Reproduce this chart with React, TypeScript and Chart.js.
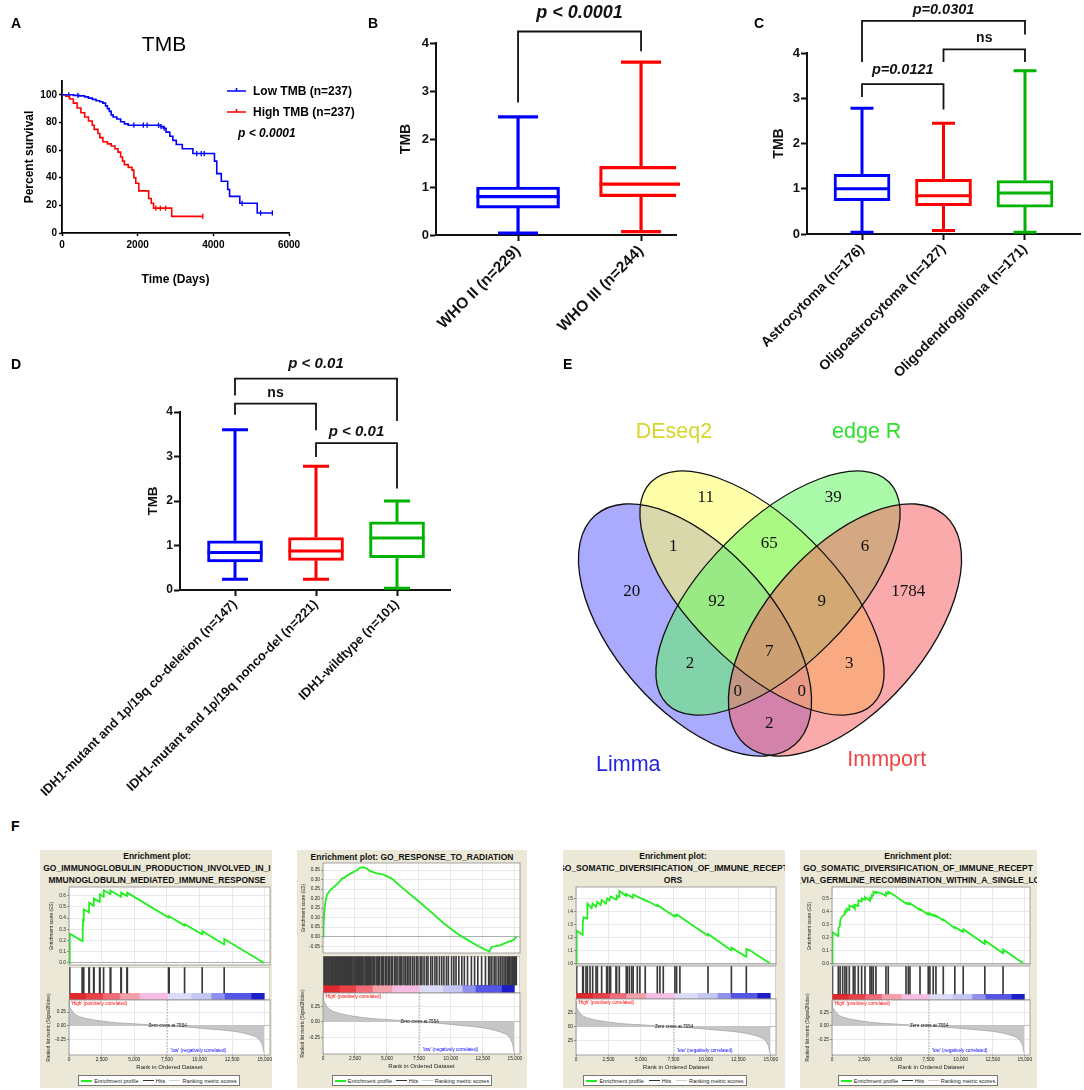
import React, { useEffect, useRef } from 'react';
import { Chart, registerables } from 'chart.js';

Chart.register(...registerables);

const SANS = "'Liberation Sans', Arial, Helvetica, sans-serif";
const SERIF = "'Liberation Serif', 'DejaVu Serif', serif";
Chart.defaults.font.family = SANS;
Chart.defaults.color = '#000';

/* ================= A: Kaplan-Meier (TMB) ================= */
const kmXTicks = [0, 2000, 4000, 6000];
const kmYTicks = [0, 20, 40, 60, 80, 100];
const kmLowLabel = 'Low TMB (n=237)';
const kmHighLabel = 'High TMB (n=237)';
const kmLowDays = [0, 300, 450, 600, 700, 800, 900, 1000, 1080, 1150, 1200, 1250, 1300, 1350, 1450, 1550, 1650, 1750, 2600, 2680, 2750, 2850, 2930, 3020, 3180, 3460, 4030, 4090, 4210, 4380, 4430, 4700, 5160, 5560];
const kmLowSurv = [100, 99.6, 99.2, 98.5, 97.6, 96.7, 95.7, 95, 94, 92, 90, 88, 85.5, 84, 82.5, 80.5, 79, 78, 77, 75.8, 73, 70, 67, 64, 61, 57.5, 52, 43, 37.5, 31.5, 26.5, 21.5, 14.5, 14.5];
const kmHighDays = [0, 100, 200, 300, 400, 500, 600, 700, 800, 850, 950, 1000, 1080, 1200, 1300, 1400, 1480, 1550, 1600, 1650, 1750, 1850, 1900, 1950, 2030, 2290, 2360, 2420, 2900, 3720];
const kmHighSurv = [100, 99, 97, 94, 90.5, 87, 84, 81, 78, 75, 72, 69, 66, 64.5, 63, 61, 58.5, 55, 52, 49.5, 47.5, 45.5, 40, 36, 30.5, 25, 21.5, 18, 12, 12];
const kmLowCensor = [180, 420, 1900, 2150, 2250, 2550, 2620, 2700, 3560, 3680, 3760, 4760, 5250, 5560];
const kmHighCensor = [2480, 2600, 2740, 3720];

/* ================= B: WHO grade ================= */
const whoCats = ['WHO II (n=229)', 'WHO III (n=244)'];
const whoMin = [0.04, 0.07];
const whoQ1 = [0.56, 0.8];
const whoMed = [0.8, 1.06];
const whoQ3 = [1.0, 1.43];
const whoMax = [2.46, 3.6];

/* ================= C: histology ================= */
const histCats = ['Astrocytoma (n=176)', 'Oligoastrocytoma (n=127)', 'Oligodendroglioma (n=171)'];
const histMin = [0.04, 0.08, 0.04];
const histQ1 = [0.735, 0.625, 0.595];
const histMed = [1.0, 0.845, 0.905];
const histQ3 = [1.32, 1.21, 1.18];
const histMax = [2.78, 2.45, 3.61];

/* ================= D: IDH / 1p19q ================= */
const idhCats = ['IDH1-mutant and 1p/19q co-deletion (n=147)', 'IDH1-mutant and 1p/19q nonco-del (n=221)', 'IDH1-wildtype (n=101)'];
const idhMin = [0.24, 0.24, 0.04];
const idhQ1 = [0.63, 0.665, 0.725];
const idhMed = [0.84, 0.875, 1.17];
const idhQ3 = [1.105, 1.18, 1.53];
const idhMax = [3.6, 2.78, 2.0];

const tmbTicks = [0, 1, 2, 3, 4];
const boxColors = ['#0000ff', '#ff0000', '#00b300'];

/* ================= E: Venn ================= */
const vennSets = ['Limma', 'DEseq2', 'edge R', 'Immport'];
const vennSetColors = ['#2424e6', '#d6d62c', '#2fe02f', '#f04444'];
const vennRegionCounts = [20, 11, 39, 1784, 1, 65, 6, 92, 9, 2, 7, 3, 0, 0, 2];
// label anchor points of the regions / set names inside the Venn frame (layout)
const vennRegionXY = [[91.7, 211.7], [165.7, 117.3], [293.3, 117.3], [368.3, 211.7], [133.3, 166.7], [229.3, 163.3], [325, 166.7], [176.7, 221.7], [281.7, 221.7], [150, 283.3], [229.3, 271.7], [309.3, 283.3], [197.7, 311.7], [261.7, 311.7], [229.3, 343.3]];
const vennSetXY = [[88.3, 385], [134, 51.7], [326.7, 51.7], [346.7, 380]];
const vennShapes = [
  { cx: 155, cy: 250, a: 152, b: 80, rot: 49, fill: 'rgba(100,100,255,0.55)' },
  { cx: 222, cy: 213, a: 157, b: 72, rot: 45, fill: 'rgba(255,255,100,0.55)' },
  { cx: 238, cy: 213, a: 157, b: 72, rot: -45, fill: 'rgba(100,245,100,0.55)' },
  { cx: 305, cy: 250, a: 152, b: 80, rot: -49, fill: 'rgba(245,100,100,0.55)' },
];

/* ================= F: GSEA ================= */
const rankTicks = [0, 2500, 5000, 7500, 10000, 12500, 15000];
const XMAX = 15400;
const zeroCross = 7554;
const rmRank = [0, 20, 60, 130, 300, 500, 800, 1270, 1800, 2300, 3000, 3570, 4200, 4850, 5500, 6100, 6800, 7554, 8230, 9000, 9800, 10780, 11700, 12570, 13300, 13850, 14300, 14610, 14820, 14920, 14960];
const rmVal = [0.46, 0.4, 0.35, 0.31, 0.25, 0.2, 0.165, 0.134, 0.11, 0.09, 0.07, 0.055, 0.045, 0.037, 0.027, 0.018, 0.009, 0, -0.012, -0.024, -0.04, -0.06, -0.078, -0.1, -0.13, -0.165, -0.2, -0.256, -0.35, -0.47, -0.5];
const cbStart = [0, 1300, 2606, 3884, 5417, 7588, 9377, 10910, 11932, 13976];
const cbEnd = [1300, 2606, 3884, 5417, 7588, 9377, 10910, 11932, 13976, 14950];
const cbColors = ['#e0282f', '#ea4149', '#f06a78', '#f4a0aa', '#f5bde4', '#dcdcf8', '#c6c6f4', '#9090f0', '#5656e6', '#1e1ec8'];

const f1EsRank = [0, 60, 1015, 1025, 1070, 1078, 1125, 1135, 1530, 1545, 1885, 1900, 2345, 2360, 2650, 2665, 3160, 3175, 3980, 3995, 4440, 4455, 7630, 7645, 8850, 8865, 10200, 10215, 11880, 11895, 14950];
const f1EsVal = [0, 0.26, 0.195, 0.29, 0.287, 0.385, 0.38, 0.478, 0.45, 0.537, 0.51, 0.575, 0.545, 0.612, 0.59, 0.648, 0.613, 0.645, 0.59, 0.627, 0.597, 0.627, 0.405, 0.418, 0.334, 0.345, 0.255, 0.283, 0.165, 0.213, 0];
const f1Hits = [55, 1015, 1040, 1075, 1130, 1530, 1560, 1885, 1915, 2345, 2375, 2650, 3160, 3200, 3980, 4010, 4440, 4470, 7625, 7650, 7675, 8855, 10205, 11890];

const f2EsRank = [0, 40, 100, 180, 310, 570, 830, 1090, 1300, 1480, 1700, 1800, 2130, 2520, 2700, 2860, 3170, 3430, 3690, 4210, 4730, 5380, 6290, 7330, 8370, 9410, 10450, 11230, 12010, 12790, 13000, 13180, 13830, 14480, 14870, 15130];
const f2EsVal = [0, 0.06, 0.13, 0.18, 0.22, 0.245, 0.26, 0.275, 0.29, 0.305, 0.31, 0.318, 0.33, 0.345, 0.35, 0.362, 0.364, 0.358, 0.344, 0.332, 0.326, 0.305, 0.251, 0.194, 0.134, 0.072, 0.018, -0.014, -0.045, -0.072, -0.077, -0.054, -0.045, -0.027, -0.018, 0];
const f2Hits = [20, 95, 165, 240, 320, 400, 470, 555, 640, 715, 790, 870, 950, 1030, 1110, 1190, 1270, 1340, 1420, 1500, 1590, 1670, 1750, 1840, 1920, 2000, 2090, 2170, 2250, 2340, 2430, 2510, 2590, 2680, 2760, 2850, 2940, 3030, 3110, 3200, 3310, 3390, 3480, 3560, 3650, 3740, 3830, 3920, 4010, 4150, 4240, 4330, 4420, 4560, 4650, 4740, 4880, 4970, 5100, 5190, 5330, 5420, 5580, 5700, 5790, 5950, 6080, 6170, 6330, 6460, 6590, 6720, 6850, 7010, 7140, 7300, 7420, 7600, 7730, 7900, 8080, 8210, 8420, 8560, 8750, 8900, 9100, 9280, 9450, 9650, 9800, 10050, 10230, 10400, 10620, 10850, 11050, 11300, 11600, 11850, 12100, 12400, 12700, 12950, 13050, 13200, 13380, 13520, 13700, 13850, 14000, 14150, 14280, 14400, 14500, 14600, 14700, 14790, 14870, 14950, 15030, 15110];

const f3EsRank = [0, 50, 500, 520, 565, 860, 875, 1200, 1285, 1535, 1645, 1895, 1975, 2300, 2410, 2560, 2665, 3120, 3135, 3320, 3335, 3850, 3870, 4380, 4400, 5000, 5700, 6250, 6270, 7000, 7600, 7620, 7740, 7760, 8000, 9020, 10150, 10170, 11950, 11970, 13100, 13120, 13380, 14920];
const f3EsVal = [0, 0.25, 0.22, 0.29, 0.355, 0.345, 0.46, 0.425, 0.46, 0.435, 0.475, 0.45, 0.487, 0.46, 0.5, 0.485, 0.515, 0.49, 0.52, 0.51, 0.557, 0.52, 0.535, 0.505, 0.53, 0.5, 0.47, 0.44, 0.45, 0.4, 0.36, 0.37, 0.365, 0.375, 0.36, 0.29, 0.215, 0.225, 0.1, 0.12, 0.05, 0.11, 0.1, 0];
const f3Hits = [50, 515, 565, 770, 875, 1080, 1285, 1540, 1645, 1975, 2360, 2410, 2565, 2665, 3080, 3130, 3335, 3870, 3950, 4110, 4290, 4400, 4720, 4920, 5330, 6260, 6460, 6720, 7615, 7745, 8000, 10165, 11965, 13115];

const f4EsRank = [0, 40, 480, 500, 620, 640, 750, 1000, 1010, 1130, 1140, 1340, 1350, 1650, 1660, 1780, 1790, 2040, 2050, 2300, 2310, 2560, 2570, 2820, 2950, 2960, 3080, 3090, 3205, 3215, 3400, 3420, 3900, 4190, 4200, 4370, 4380, 4900, 5300, 5750, 5760, 5930, 5940, 6060, 6070, 6840, 6850, 7480, 7490, 7610, 7620, 7870, 7880, 8080, 8090, 8650, 8660, 9550, 9560, 10200, 10210, 11880, 11890, 13300, 13310, 14870];
const f4EsVal = [0, 0.24, 0.21, 0.27, 0.29, 0.33, 0.355, 0.38, 0.4, 0.395, 0.42, 0.41, 0.445, 0.43, 0.44, 0.42, 0.45, 0.44, 0.485, 0.475, 0.5, 0.49, 0.51, 0.49, 0.48, 0.505, 0.5, 0.525, 0.52, 0.55, 0.54, 0.55, 0.535, 0.52, 0.545, 0.535, 0.55, 0.52, 0.49, 0.46, 0.465, 0.455, 0.462, 0.455, 0.462, 0.41, 0.418, 0.375, 0.383, 0.375, 0.383, 0.365, 0.372, 0.36, 0.367, 0.33, 0.337, 0.27, 0.278, 0.24, 0.262, 0.148, 0.176, 0.077, 0.107, 0];
const f4Hits = [40, 490, 630, 830, 1005, 1135, 1345, 1655, 1785, 2045, 2305, 2565, 2955, 3085, 3210, 3415, 4195, 4375, 5755, 5935, 6065, 6845, 7485, 7615, 7875, 8085, 8655, 9555, 10205, 11885, 13305];

const esTicks06 = [0, 0.1, 0.2, 0.3, 0.4, 0.5, 0.6];
const esTicks035 = [-0.05, 0, 0.05, 0.1, 0.15, 0.2, 0.25, 0.3, 0.35];
const esTicks05 = [0, 0.1, 0.2, 0.3, 0.4, 0.5];
const rmTicks = [-0.25, 0, 0.25];

const BEIGE = '#ece8d8';

/* ================= helpers ================= */
type Frame = { x: number; y: number; w: number; h: number };

function ChartBox({ frame, make }: { frame: Frame; make: () => any }) {
  const ref = useRef<HTMLCanvasElement | null>(null);
  useEffect(() => {
    const chart = new Chart(ref.current as HTMLCanvasElement, make());
    return () => chart.destroy();
  }, []);
  return (
    <canvas
      ref={ref}
      width={frame.w}
      height={frame.h}
      style={{ position: 'absolute', left: frame.x, top: frame.y, width: frame.w, height: frame.h }}
    />
  );
}

const baseOpts = {
  responsive: false,
  maintainAspectRatio: false,
  animation: false,
  events: [],
};

const fixTicks = (vals: number[]) => (s: any) => {
  s.ticks = vals.map((v) => ({ value: v }));
};

function survAt(days: number[], surv: number[], t: number) {
  let s = surv[0];
  for (let i = 0; i < days.length; i++) if (days[i] <= t) s = surv[i];
  return s;
}

/* ---------- A ---------- */
const kmDecor = {
  id: 'kmDecor',
  afterDraw(chart: any) {
    const { ctx } = chart;
    ctx.save();
    ctx.fillStyle = '#000';
    ctx.font = `21px ${SANS}`;
    ctx.textAlign = 'center';
    ctx.textBaseline = 'middle';
    ctx.fillText('TMB', 164, 45);
    const rows = [
      { c: '#0000ff', t: chart.data.datasets[0].label, y: 91 },
      { c: '#ff0000', t: chart.data.datasets[1].label, y: 112 },
    ];
    ctx.font = `bold 12px ${SANS}`;
    ctx.textAlign = 'left';
    rows.forEach((r) => {
      ctx.strokeStyle = r.c;
      ctx.lineWidth = 1.6;
      ctx.beginPath();
      ctx.moveTo(227, r.y);
      ctx.lineTo(246, r.y);
      ctx.moveTo(236.5, r.y - 3);
      ctx.lineTo(236.5, r.y);
      ctx.stroke();
      ctx.fillStyle = '#000';
      ctx.fillText(r.t, 253, r.y + 0.5);
    });
    ctx.font = `italic bold 12px ${SANS}`;
    ctx.fillText('p < 0.0001', 238, 133.5);
    ctx.restore();
  },
};

function kmConfig() {
  const axisFont = { size: 10, weight: 'bold' };
  const titleFont = { size: 12, weight: 'bold' };
  const grid = { drawOnChartArea: false, drawTicks: true, tickLength: 3, tickWidth: 1.5, tickColor: '#000' };
  const border = { display: true, color: '#000', width: 1.8 };
  const cens = (days: number[], surv: number[], c: number[], color: string) => ({
    label: 'censored',
    data: c.map((t) => ({ x: t, y: survAt(days, surv, t) })),
    showLine: false,
    pointStyle: 'line',
    pointRotation: 90,
    pointRadius: 2.6,
    pointBorderWidth: 1.3,
    borderColor: color,
    pointBorderColor: color,
    backgroundColor: color,
  });
  return {
    type: 'line',
    data: {
      datasets: [
        { label: kmLowLabel, data: kmLowDays.map((d, i) => ({ x: d, y: kmLowSurv[i] })), borderColor: '#0000ff', borderWidth: 1.6, pointRadius: 0, stepped: true, fill: false },
        { label: kmHighLabel, data: kmHighDays.map((d, i) => ({ x: d, y: kmHighSurv[i] })), borderColor: '#ff0000', borderWidth: 1.6, pointRadius: 0, stepped: true, fill: false },
        cens(kmLowDays, kmLowSurv, kmLowCensor, '#0000ff'),
        cens(kmHighDays, kmHighSurv, kmHighCensor, '#ff0000'),
      ],
    },
    options: {
      ...baseOpts,
      layout: { padding: { left: 0, top: 81, right: 75, bottom: 0 } },
      plugins: { legend: { display: false }, tooltip: { enabled: false }, title: { display: false } },
      scales: {
        x: {
          type: 'linear', min: 0, max: 6000,
          afterBuildTicks: fixTicks(kmXTicks),
          afterFit: (s: any) => { s.height = 67; },
          ticks: { font: axisFont, color: '#000', padding: 3, callback: (v: any) => String(v) },
          grid, border,
          title: { display: true, text: 'Time (Days)', font: titleFont, color: '#000', padding: { top: 0, bottom: 12.8 } },
        },
        y: {
          min: 0, max: 110,
          afterBuildTicks: fixTicks(kmYTicks),
          afterFit: (s: any) => { s.width = 62; },
          ticks: { font: axisFont, color: '#000', padding: 2, callback: (v: any) => String(v) },
          grid, border,
          title: { display: true, text: 'Percent survival', font: titleFont, color: '#000', padding: { top: 22.8, bottom: 0 } },
        },
      },
    },
    plugins: [kmDecor],
  };
}

/* ---------- B/C/D box plots ---------- */
type Bracket = { a: number; b: number; top: number; endA: number; endB: number; text: string; textY: number; italic: boolean; size: number };
type BoxSpec = {
  cats: string[]; mins: number[]; q1: number[]; med: number[]; q3: number[]; maxs: number[];
  xMin: number; xMax: number; boxW: number; capW: number; lw: number;
  tickFont: number; labelFont: number; titleFont: number; titlePad: number;
  brackets: Bracket[];
};

function boxExtras(s: BoxSpec) {
  return {
    id: 'boxExtras',
    afterDatasetsDraw(chart: any) {
      const { ctx } = chart;
      const xs = chart.scales.x;
      const ys = chart.scales.y;
      ctx.save();
      s.cats.forEach((_, i) => {
        const cx = xs.getPixelForValue(i + 1);
        const yMin = ys.getPixelForValue(s.mins[i]);
        const yQ1 = ys.getPixelForValue(s.q1[i]);
        const yMed = ys.getPixelForValue(s.med[i]);
        const yQ3 = ys.getPixelForValue(s.q3[i]);
        const yMax = ys.getPixelForValue(s.maxs[i]);
        ctx.strokeStyle = boxColors[i];
        ctx.lineWidth = s.lw;
        ctx.beginPath();
        ctx.moveTo(cx, yQ3); ctx.lineTo(cx, yMax);
        ctx.moveTo(cx, yQ1); ctx.lineTo(cx, yMin);
        ctx.moveTo(cx - s.capW / 2, yMax); ctx.lineTo(cx + s.capW / 2, yMax);
        ctx.moveTo(cx - s.capW / 2, yMin); ctx.lineTo(cx + s.capW / 2, yMin);
        ctx.moveTo(cx - s.boxW / 2, yMed); ctx.lineTo(cx + s.boxW / 2, yMed);
        ctx.stroke();
      });
      ctx.strokeStyle = '#111';
      ctx.fillStyle = '#111';
      ctx.lineWidth = 1.8;
      s.brackets.forEach((b) => {
        const xa = xs.getPixelForValue(b.a);
        const xb = xs.getPixelForValue(b.b);
        const yt = ys.getPixelForValue(b.top);
        ctx.beginPath();
        ctx.moveTo(xa, ys.getPixelForValue(b.endA));
        ctx.lineTo(xa, yt);
        ctx.lineTo(xb, yt);
        ctx.lineTo(xb, ys.getPixelForValue(b.endB));
        ctx.stroke();
        ctx.font = `${b.italic ? 'italic ' : ''}bold ${b.size}px ${SANS}`;
        ctx.textAlign = 'center';
        ctx.textBaseline = 'middle';
        ctx.fillText(b.text, (xa + xb) / 2, ys.getPixelForValue(b.textY));
      });
      ctx.restore();
    },
  };
}

function boxConfig(s: BoxSpec, m: { left: number; top: number; right: number; bottom: number }) {
  const grid = { drawOnChartArea: false, drawTicks: true, tickLength: 6, tickWidth: 2, tickColor: '#111', offset: false };
  const border = { display: true, color: '#111', width: 2 };
  return {
    type: 'bar',
    data: {
      datasets: [{
        data: s.cats.map((_, i) => ({ x: i + 1, y: [s.q1[i], s.q3[i]] })),
        backgroundColor: '#ffffff',
        borderColor: s.cats.map((_, i) => boxColors[i]),
        borderWidth: s.lw,
        borderSkipped: false,
        barThickness: s.boxW,
        grouped: false,
      }],
    },
    options: {
      ...baseOpts,
      layout: { padding: { left: 0, top: m.top, right: m.right, bottom: 0 } },
      plugins: { legend: { display: false }, tooltip: { enabled: false } },
      scales: {
        x: {
          type: 'linear', min: s.xMin, max: s.xMax, offset: false,
          afterBuildTicks: fixTicks(s.cats.map((_, i) => i + 1)),
          afterFit: (sc: any) => { sc.height = m.bottom; },
          ticks: {
            autoSkip: false, minRotation: 45, maxRotation: 45, padding: 1, color: '#111',
            font: { size: s.labelFont, weight: 'bold' },
            callback: (v: any) => s.cats[Math.round(v) - 1] ?? '',
          },
          grid, border,
        },
        y: {
          min: 0, max: 4,
          afterBuildTicks: fixTicks(tmbTicks),
          afterFit: (sc: any) => { sc.width = m.left; },
          ticks: { font: { size: s.tickFont, weight: 'bold' }, color: '#111', padding: 1, callback: (v: any) => String(v) },
          grid, border,
          title: { display: true, text: 'TMB', font: { size: s.titleFont, weight: 'bold' }, color: '#111', padding: { top: s.titlePad, bottom: 0 } },
        },
      },
    },
    plugins: [boxExtras(s)],
  };
}

const specB: BoxSpec = {
  cats: whoCats, mins: whoMin, q1: whoQ1, med: whoMed, q3: whoQ3, maxs: whoMax,
  xMin: 0.333, xMax: 2.284, boxW: 83, capW: 40, lw: 3.2,
  tickFont: 13, labelFont: 15.5, titleFont: 14, titlePad: 67.6,
  brackets: [{ a: 1, b: 2, top: 4.24, endA: 2.76, endB: 3.83, text: 'p < 0.0001', textY: 4.63, italic: true, size: 18 }],
};
const specC: BoxSpec = {
  cats: histCats, mins: histMin, q1: histQ1, med: histMed, q3: histQ3, maxs: histMax,
  xMin: 0.325, xMax: 3.675, boxW: 56, capW: 23, lw: 3,
  tickFont: 13, labelFont: 14, titleFont: 14, titlePad: 100.9,
  brackets: [
    { a: 1, b: 2, top: 3.31, endA: 3.03, endB: 2.75, text: 'p=0.0121', textY: 3.62, italic: true, size: 14.5 },
    { a: 2, b: 3, top: 4.08, endA: 3.8, endB: 3.8, text: 'ns', textY: 4.33, italic: false, size: 14 },
    { a: 1, b: 3, top: 4.71, endA: 3.8, endB: 4.41, text: 'p=0.0301', textY: 4.96, italic: true, size: 14.5 },
  ],
};
const specD: BoxSpec = {
  cats: idhCats, mins: idhMin, q1: idhQ1, med: idhMed, q3: idhQ3, maxs: idhMax,
  xMin: 0.321, xMax: 3.654, boxW: 55, capW: 26, lw: 3,
  tickFont: 12, labelFont: 13, titleFont: 13.5, titlePad: 145.2,
  brackets: [
    { a: 1, b: 2, top: 4.19, endA: 3.94, endB: 3.59, text: 'ns', textY: 4.42, italic: false, size: 14 },
    { a: 2, b: 3, top: 3.3, endA: 2.99, endB: 2.28, text: 'p < 0.01', textY: 3.55, italic: true, size: 15 },
    { a: 1, b: 3, top: 4.75, endA: 4.37, endB: 3.8, text: 'p < 0.01', textY: 5.08, italic: true, size: 15 },
  ],
};

/* ---------- E: Venn ---------- */
const vennPlugin = {
  id: 'venn',
  beforeDatasetsDraw(chart: any) {
    const { ctx } = chart;
    const xs = chart.scales.x;
    const ys = chart.scales.y;
    const path = (e: any) => {
      ctx.beginPath();
      ctx.ellipse(
        xs.getPixelForValue(e.cx), ys.getPixelForValue(e.cy),
        Math.abs(xs.getPixelForValue(e.a) - xs.getPixelForValue(0)),
        Math.abs(ys.getPixelForValue(e.b) - ys.getPixelForValue(0)),
        (e.rot * Math.PI) / 180, 0, Math.PI * 2,
      );
    };
    ctx.save();
    vennShapes.forEach((e) => { path(e); ctx.fillStyle = e.fill; ctx.fill(); });
    ctx.strokeStyle = '#111';
    ctx.lineWidth = 1.3;
    vennShapes.forEach((e) => { path(e); ctx.stroke(); });
    ctx.restore();
  },
  afterDatasetsDraw(chart: any) {
    const { ctx } = chart;
    ctx.save();
    ctx.textAlign = 'center';
    ctx.textBaseline = 'middle';
    ctx.fillStyle = '#111';
    ctx.font = `17px ${SERIF}`;
    chart.getDatasetMeta(0).data.forEach((pt: any, i: number) => {
      ctx.fillText(String(vennRegionCounts[i]), pt.x, pt.y);
    });
    ctx.font = `21.5px ${SANS}`;
    chart.getDatasetMeta(1).data.forEach((pt: any, i: number) => {
      ctx.fillStyle = vennSetColors[i];
      ctx.fillText(vennSets[i], pt.x, pt.y);
    });
    ctx.restore();
  },
};

function vennConfig() {
  return {
    type: 'scatter',
    data: {
      datasets: [
        { data: vennRegionXY.map((p) => ({ x: p[0], y: p[1] })), pointRadius: 0 },
        { data: vennSetXY.map((p) => ({ x: p[0], y: p[1] })), pointRadius: 0 },
      ],
    },
    options: {
      ...baseOpts,
      layout: { padding: 0 },
      plugins: { legend: { display: false }, tooltip: { enabled: false } },
      scales: {
        x: { type: 'linear', display: false, min: 0, max: 544 },
        y: { type: 'linear', display: false, min: 0, max: 420, reverse: true },
      },
    },
    plugins: [vennPlugin],
  };
}

/* ---------- F: GSEA ---------- */
type G = {
  beige: { l: number; t: number; r: number; b: number };
  titleCX: number; title: string[]; titleY: number[];
  canvasL: number; plotL: number; plotR: number;
  es: number[]; hits: number[]; cbar: number[]; rank: number[];
  esMin: number; esMax: number; esTicks: number[]; esDigits: number;
  rmMin: number; rmMax: number;
  esRank: number[]; esVal: number[]; hitRanks: number[];
  yTitles: boolean; esTitlePad: number; rmTitlePad: number;
  legendL: number; legendW: number;
};

const whiteBg = {
  id: 'whiteBg',
  beforeDraw(chart: any) {
    const { ctx, chartArea: a } = chart;
    ctx.save();
    ctx.fillStyle = '#ffffff';
    ctx.fillRect(a.left, a.top, a.right - a.left, a.bottom - a.top);
    ctx.restore();
  },
};
const frameBorder = {
  id: 'frameBorder',
  afterDraw(chart: any) {
    const { ctx, chartArea: a } = chart;
    ctx.save();
    ctx.strokeStyle = '#8e8e8e';
    ctx.lineWidth = 0.8;
    ctx.strokeRect(a.left, a.top, a.right - a.left, a.bottom - a.top);
    ctx.restore();
  },
};
const smallFont = { size: 4.8 };
const lightGrid = '#e3e3e3';

function esConfig(g: G) {
  return {
    type: 'line',
    data: { datasets: [{ data: g.esRank.map((r, i) => ({ x: r, y: g.esVal[i] })), borderColor: '#22ee22', borderWidth: 1.8, pointRadius: 0, tension: 0, fill: false }] },
    options: {
      ...baseOpts,
      layout: { padding: { left: 0, top: 5, right: 6, bottom: 5 } },
      plugins: { legend: { display: false }, tooltip: { enabled: false } },
      scales: {
        x: {
          type: 'linear', min: 0, max: XMAX,
          afterBuildTicks: fixTicks(rankTicks),
          afterFit: (s: any) => { s.height = 0; },
          ticks: { display: false },
          grid: { color: lightGrid, lineWidth: 0.8, drawTicks: false },
          border: { display: false },
        },
        y: {
          min: g.esMin, max: g.esMax,
          afterBuildTicks: fixTicks(g.esTicks),
          afterFit: (s: any) => { s.width = g.plotL - g.canvasL; },
          ticks: { font: smallFont, color: '#222', padding: 1, callback: (v: any) => Number(v).toFixed(g.esDigits) },
          grid: { color: (c: any) => (c.tick && Math.abs(c.tick.value) < 1e-9 ? '#9a9a9a' : lightGrid), lineWidth: 0.8, tickLength: 2, tickColor: '#777' },
          border: { display: false },
          title: { display: g.yTitles, text: 'Enrichment score (ES)', font: smallFont, color: '#222', padding: { top: g.esTitlePad, bottom: 0 } },
        },
      },
    },
    plugins: [whiteBg, frameBorder],
  };
}

function colorBar(frac: number) {
  return {
    id: 'colorBar',
    beforeDatasetsDraw(chart: any) {
      const { ctx } = chart;
      const xs = chart.scales.x;
      const ys = chart.scales.y;
      ctx.save();
      cbStart.forEach((s, i) => {
        const x0 = xs.getPixelForValue(s);
        const x1 = xs.getPixelForValue(cbEnd[i]);
        const y0 = ys.getPixelForValue(frac);
        const y1 = ys.getPixelForValue(0);
        ctx.fillStyle = cbColors[i];
        ctx.fillRect(x0, y0, x1 - x0 + 0.5, y1 - y0);
      });
      ctx.restore();
    },
  };
}

function hitsConfig(g: G, frac: number) {
  return {
    type: 'bar',
    data: { datasets: [{ data: g.hitRanks.map((r) => ({ x: r, y: [frac, 1] })), backgroundColor: '#3a3a3a', borderWidth: 0, barThickness: 1, grouped: false }] },
    options: {
      ...baseOpts,
      layout: { padding: 0 },
      plugins: { legend: { display: false }, tooltip: { enabled: false } },
      scales: {
        x: { type: 'linear', display: false, min: 0, max: XMAX, offset: false, grid: { offset: false } },
        y: { type: 'linear', display: false, min: 0, max: 1 },
      },
    },
    plugins: [whiteBg, colorBar(frac), frameBorder],
  };
}

const rankAnnot = {
  id: 'rankAnnot',
  afterDatasetsDraw(chart: any) {
    const { ctx, chartArea: a } = chart;
    const xs = chart.scales.x;
    const ys = chart.scales.y;
    const zx = xs.getPixelForValue(zeroCross);
    ctx.save();
    ctx.strokeStyle = '#9a9a9a';
    ctx.lineWidth = 0.8;
    ctx.setLineDash([1.5, 1.5]);
    ctx.beginPath();
    ctx.moveTo(zx, a.top);
    ctx.lineTo(zx, a.bottom);
    ctx.stroke();
    ctx.setLineDash([]);
    ctx.font = `4.6px ${SANS}`;
    ctx.fillStyle = '#ff0000';
    ctx.textAlign = 'left';
    ctx.textBaseline = 'top';
    ctx.fillText("'High' (positively correlated)", a.left + 2, a.top + 1);
    ctx.fillStyle = '#111';
    ctx.textAlign = 'center';
    ctx.textBaseline = 'middle';
    ctx.fillText('Zero cross at 7554', zx, ys.getPixelForValue(0));
    ctx.fillStyle = '#0000ff';
    ctx.textAlign = 'left';
    ctx.textBaseline = 'bottom';
    ctx.fillText("'low' (negatively correlated)", zx + 3, a.bottom - 1.5);
    ctx.restore();
  },
};

function rankConfig(g: G) {
  return {
    type: 'line',
    data: { datasets: [{ data: rmRank.map((r, i) => ({ x: r, y: rmVal[i] })), borderColor: '#a6a6a6', borderWidth: 0.8, backgroundColor: '#c6c6c6', fill: 'origin', pointRadius: 0, tension: 0 }] },
    options: {
      ...baseOpts,
      layout: { padding: { left: 0, top: 45, right: 8, bottom: 0 } },
      plugins: { legend: { display: false }, tooltip: { enabled: false } },
      scales: {
        x: {
          type: 'linear', min: 0, max: XMAX,
          afterBuildTicks: fixTicks(rankTicks),
          afterFit: (s: any) => { s.height = 16; },
          ticks: { font: smallFont, color: '#222', padding: 0.5, callback: (v: any) => Number(v).toLocaleString('en-US') },
          grid: { color: lightGrid, lineWidth: 0.8, drawTicks: true, tickLength: 1.5, tickColor: '#777' },
          border: { display: false },
          title: { display: true, text: 'Rank in Ordered Dataset', font: { size: 6 }, color: '#222', padding: 0 },
        },
        y: {
          min: g.rmMin, max: g.rmMax,
          afterBuildTicks: fixTicks(rmTicks),
          afterFit: (s: any) => { s.width = g.plotL - g.canvasL; },
          ticks: { font: smallFont, color: '#222', padding: 1, callback: (v: any) => Number(v).toFixed(2) },
          grid: { color: (c: any) => (c.tick && Math.abs(c.tick.value) < 1e-9 ? '#b0b0b0' : lightGrid), lineWidth: 0.8, tickLength: 2, tickColor: '#777' },
          border: { display: false },
          title: { display: g.yTitles, text: 'Ranked list metric (Signal2Noise)', font: { size: 4.6 }, color: '#222', padding: { top: g.rmTitlePad, bottom: 0 } },
        },
      },
    },
    plugins: [whiteBg, rankAnnot, frameBorder],
  };
}

const gsea: G[] = [
  {
    beige: { l: 40, t: 850, r: 272, b: 1088 }, titleCX: 157,
    title: ['Enrichment plot:', 'GO_IMMUNOGLOBULIN_PRODUCTION_INVOLVED_IN_I', 'MMUNOGLOBULIN_MEDIATED_IMMUNE_RESPONSE'], titleY: [856, 868, 880],
    canvasL: 40, plotL: 69, plotR: 270,
    es: [887, 965], hits: [967, 993], cbar: [993, 1000], rank: [1000, 1055],
    esMin: -0.018, esMax: 0.677, esTicks: esTicks06, esDigits: 1,
    rmMin: -0.537, rmMax: 0.471,
    esRank: f1EsRank, esVal: f1EsVal, hitRanks: f1Hits,
    yTitles: true, esTitlePad: 8.8, rmTitlePad: 6.2, legendL: 78, legendW: 162,
  },
  {
    beige: { l: 297, t: 850, r: 527, b: 1088 }, titleCX: 412,
    title: ['Enrichment plot: GO_RESPONSE_TO_RADIATION'], titleY: [857],
    canvasL: 297, plotL: 323, plotR: 520,
    es: [863, 953], hits: [956, 985], cbar: [985, 993], rank: [993, 1054],
    esMin: -0.0856, esMax: 0.387, esTicks: esTicks035, esDigits: 2,
    rmMin: -0.521, rmMax: 0.463,
    esRank: f2EsRank, esVal: f2EsVal, hitRanks: f2Hits,
    yTitles: true, esTitlePad: 3.4, rmTitlePad: 3.4, legendL: 332, legendW: 160,
  },
  {
    beige: { l: 563, t: 850, r: 785, b: 1088 }, titleCX: 673,
    title: ['Enrichment plot:', 'GO_SOMATIC_DIVERSIFICATION_OF_IMMUNE_RECEPT', 'ORS'], titleY: [856, 868, 880],
    canvasL: 568, plotL: 576, plotR: 776,
    es: [887, 965], hits: [966, 992], cbar: [993, 999], rank: [999, 1055],
    esMin: -0.013, esMax: 0.588, esTicks: esTicks05, esDigits: 1,
    rmMin: -0.518, rmMax: 0.507,
    esRank: f3EsRank, esVal: f3EsVal, hitRanks: f3Hits,
    yTitles: false, esTitlePad: 0, rmTitlePad: 0, legendL: 583, legendW: 164,
  },
  {
    beige: { l: 800, t: 850, r: 1037, b: 1088 }, titleCX: 918,
    title: ['Enrichment plot:', 'GO_SOMATIC_DIVERSIFICATION_OF_IMMUNE_RECEPT', 'ORS_VIA_GERMLINE_RECOMBINATION_WITHIN_A_SINGLE_LOCUS'], titleY: [856, 868, 880],
    canvasL: 800, plotL: 832, plotR: 1030,
    es: [887, 965], hits: [966, 993], cbar: [994, 1000], rank: [1000, 1055],
    esMin: -0.013, esMax: 0.587, esTicks: esTicks05, esDigits: 1,
    rmMin: -0.531, rmMax: 0.476,
    esRank: f4EsRank, esVal: f4EsVal, hitRanks: f4Hits,
    yTitles: true, esTitlePad: 7.1, rmTitlePad: 5.2, legendL: 838, legendW: 160,
  },
];

function LegendItem({ color, text, h }: { color: string; text: string; h: number }) {
  return (
    <span style={{ display: 'inline-flex', alignItems: 'center', whiteSpace: 'nowrap' }}>
      <span style={{ display: 'inline-block', width: 11, height: h, background: color, marginRight: 2 }} />
      {text}
    </span>
  );
}

function GseaPanel({ g }: { g: G }) {
  const W = g.beige.r - g.beige.l;
  const frac = (g.cbar[1] - g.cbar[0]) / (g.cbar[1] - g.hits[0]);
  return (
    <>
      <div style={{ position: 'absolute', left: g.beige.l, top: g.beige.t, width: W, height: g.beige.b - g.beige.t, background: BEIGE, overflow: 'hidden' }}>
        {g.title.map((t, i) => (
          <div
            key={i}
            style={{
              position: 'absolute', left: g.titleCX - g.beige.l - 300, width: 600, top: g.titleY[i] - g.beige.t - 6,
              height: 12, lineHeight: '12px', textAlign: 'center', whiteSpace: 'nowrap',
              fontFamily: SANS, fontWeight: 'bold', fontSize: 8.5, color: '#111',
            }}
          >
            {t}
          </div>
        ))}
      </div>
      <ChartBox frame={{ x: g.canvasL, y: g.es[0] - 5, w: g.plotR - g.canvasL + 6, h: g.es[1] - g.es[0] + 10 }} make={() => esConfig(g)} />
      <ChartBox frame={{ x: g.plotL, y: g.hits[0], w: g.plotR - g.plotL, h: g.cbar[1] - g.hits[0] }} make={() => hitsConfig(g, frac)} />
      <ChartBox frame={{ x: g.canvasL, y: g.rank[0] - 45, w: g.plotR - g.canvasL + 8, h: g.rank[1] - g.rank[0] + 61 }} make={() => rankConfig(g)} />
      <div
        style={{
          position: 'absolute', left: g.legendL, top: 1075, width: g.legendW, height: 11, boxSizing: 'border-box',
          background: '#fff', border: '1px solid #777', display: 'flex', alignItems: 'center', justifyContent: 'space-around',
          fontFamily: SANS, fontSize: 5.5, color: '#222',
        }}
      >
        <LegendItem color="#22ee22" text="Enrichment profile" h={2} />
        <LegendItem color="#333" text="Hits" h={1.5} />
        <LegendItem color="#cfcfcf" text="Ranking metric scores" h={1.5} />
      </div>
    </>
  );
}

function Letter({ t, x, y }: { t: string; x: number; y: number }) {
  return (
    <div style={{ position: 'absolute', left: x, top: y, fontFamily: SANS, fontWeight: 'bold', fontSize: 14, lineHeight: '16px', color: '#000' }}>{t}</div>
  );
}

export default function App() {
  return (
    <div style={{ position: 'absolute', left: 0, top: 0, width: 1084, height: 1090, background: '#fff', overflow: 'hidden' }}>
      <ChartBox frame={{ x: 0, y: 0, w: 364, h: 300 }} make={kmConfig} />
      <ChartBox frame={{ x: 330, y: 0, w: 350, h: 380 }} make={() => boxConfig(specB, { left: 106, top: 43, right: 4, bottom: 145 })} />
      <ChartBox frame={{ x: 670, y: 0, w: 414, h: 380 }} make={() => boxConfig(specC, { left: 137, top: 53, right: 4, bottom: 146 })} />
      <ChartBox frame={{ x: 0, y: 350, w: 458, h: 450 }} make={() => boxConfig(specD, { left: 180, top: 62, right: 8, bottom: 210 })} />
      <ChartBox frame={{ x: 540, y: 380, w: 544, h: 420 }} make={vennConfig} />
      {gsea.map((g, i) => (
        <GseaPanel key={i} g={g} />
      ))}
      <Letter t="A" x={11} y={15} />
      <Letter t="B" x={368} y={15} />
      <Letter t="C" x={754} y={15} />
      <Letter t="D" x={11} y={356} />
      <Letter t="E" x={563} y={356} />
      <Letter t="F" x={11} y={818} />
    </div>
  );
}
